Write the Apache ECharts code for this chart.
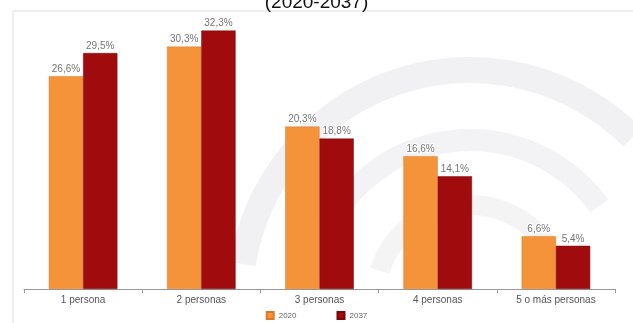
<!DOCTYPE html>
<html><head><meta charset="utf-8">
<script src="https://cdn.jsdelivr.net/npm/echarts@6/dist/echarts.min.js"></script>
<style>html,body{margin:0;padding:0;background:#fff}#c{width:633px;height:323px}</style>
</head><body><div id="c"></div>
<script>
const categories = ['1 persona','2 personas','3 personas','4 personas','5 o más personas'];
const seriesNames = ['2020','2037'];
const values2020 = [26.6, 30.3, 20.3, 16.6, 6.6];
const values2037 = [29.5, 32.3, 18.8, 14.1, 5.4];
const fmt = v => v.toFixed(1).replace('.', ',') + '%';

const chart = echarts.init(document.getElementById('c'));
const label = {
  show: true, position: 'top', distance: 2,
  fontFamily: 'Liberation Sans, Arial', fontSize: 10, color: '#777',
  textBorderColor: '#fff', textBorderWidth: 2,
  formatter: p => fmt(p.value)
};
chart.setOption({
  animation: false,
  backgroundColor: '#fff',
  title: { text: '(2020-2037)', left: 'center', top: -12,
    textStyle: { fontFamily: 'Liberation Sans, Arial', fontSize: 19, fontWeight: 'normal', color: '#111' } },
  graphic: [
    { type: 'rect', shape: { x: 13, y: 11, width: 640, height: 330 }, style: { fill: 'none', stroke: '#ddd', lineWidth: 1 }, z: -1 },
    { type: 'arc', shape: { cx: 470, cy: 300, r: 230, startAngle: Math.PI * 1.05, endAngle: Math.PI * 1.75 }, style: { stroke: 'rgba(150,150,160,0.13)', lineWidth: 26, fill: 'none' }, z: -1 },
    { type: 'arc', shape: { cx: 470, cy: 300, r: 160, startAngle: Math.PI * 1.05, endAngle: Math.PI * 1.8 }, style: { stroke: 'rgba(150,150,160,0.11)', lineWidth: 22, fill: 'none' }, z: -1 },
    { type: 'arc', shape: { cx: 470, cy: 300, r: 95, startAngle: Math.PI * 1.1, endAngle: Math.PI * 1.9 }, style: { stroke: 'rgba(150,150,160,0.1)', lineWidth: 20, fill: 'none' }, z: -1 }
  ],
  legend: {
    data: seriesNames, bottom: -2, left: 'center', itemGap: 40,
    itemWidth: 7, itemHeight: 7, icon: 'rect',
    textStyle: { fontFamily: 'Liberation Sans, Arial', fontSize: 8, color: '#666' }
  },
  grid: { left: 24, right: 18, top: 9, bottom: 34 },
  xAxis: {
    type: 'category', data: categories,
    axisLine: { lineStyle: { color: '#999' } },
    axisTick: { show: true, alignWithLabel: false, length: 4, lineStyle: { color: '#999' } },
    axisLabel: { fontFamily: 'Liberation Sans, Arial', fontSize: 10, color: '#555', margin: 6 }
  },
  yAxis: { type: 'value', min: 0, max: 35, show: false, splitLine: { show: false } },
  series: [
    { name: seriesNames[0], type: 'bar', data: values2020, barGap: '0%', barCategoryGap: '42%',
      itemStyle: { color: '#F5933B', borderColor: '#d97a2a', borderWidth: 0.5 }, label },
    { name: seriesNames[1], type: 'bar', data: values2037,
      itemStyle: { color: '#A00B0E', borderColor: '#7a0608', borderWidth: 0.5 }, label }
  ]
});
</script></body></html>
